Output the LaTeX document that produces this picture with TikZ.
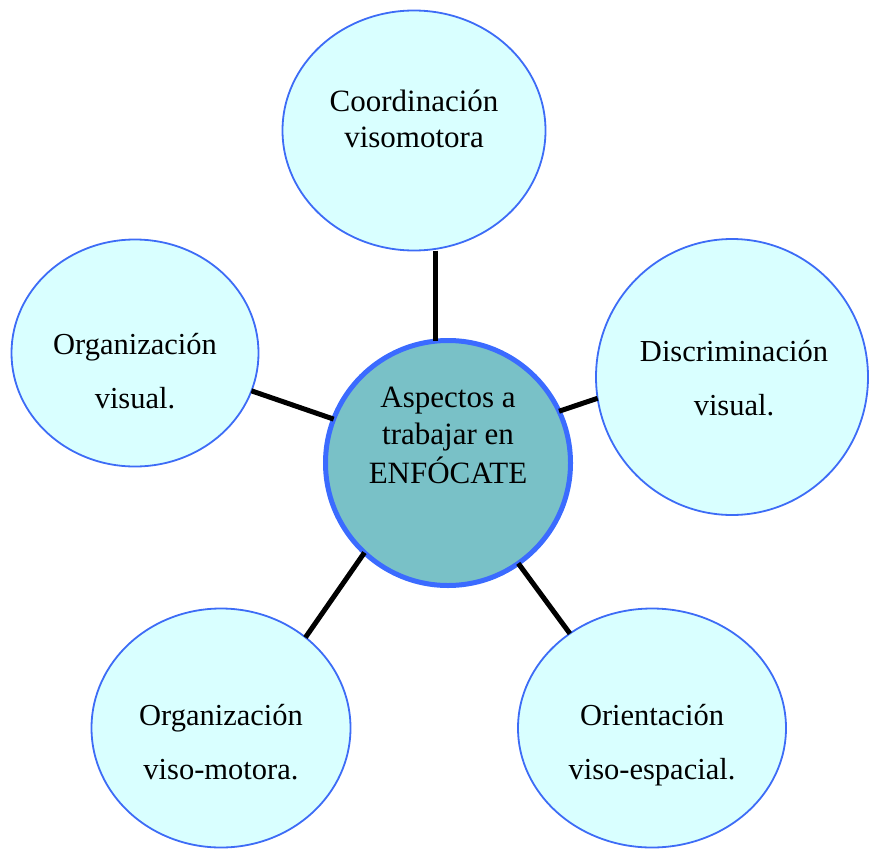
\documentclass[tikz,border=0pt]{standalone}
\usepackage{fontspec}
\setmainfont{Liberation Serif}
\usetikzlibrary{shapes.geometric}
\definecolor{aspectfill}{HTML}{D9FFFF}
\definecolor{aspectline}{HTML}{3D6CF6}
\definecolor{hubfill}{HTML}{79C1C7}
\definecolor{hubline}{HTML}{3B6BFF}
\tikzset{x=1pt, y=-1pt, outer sep=0pt, font=\fontsize{30.5}{54}\selectfont}
\tikzstyle{aspect} = [draw=aspectline, fill=aspectfill, ellipse, line width=1.8pt, inner sep=0pt]
\tikzstyle{centre} = [draw=hubline, fill=hubfill, circle, line width=5pt, inner sep=0pt, minimum size=245pt]
\tikzstyle{txt} = [align=center, inner sep=0pt]
\tikzstyle{link} = [line width=5pt]
\begin{document}
\begin{tikzpicture}
		\useasboundingbox (0,0) rectangle (869,848);
		\node [centre] (hub) at (448,463) {};
		\node [aspect, minimum width=263pt, minimum height=240pt] (coord) at (414,130.5) {};
		\node [aspect, minimum width=272pt, minimum height=276pt] (discrim) at (732,377) {};
		\node [aspect, minimum width=247pt, minimum height=227pt] (orgvis) at (135,353) {};
		\node [aspect, minimum width=259pt, minimum height=239pt] (orgmot) at (221,728) {};
		\node [aspect, minimum width=268pt, minimum height=239pt] (orient) at (652,728) {};

		\node [txt, font=\fontsize{31}{37.5}\selectfont] (hub-text) at (448,438) {\strut Aspectos a\\\strut trabajar en\\\strut ENFÓCATE};
		\node [txt, font=\fontsize{31}{36}\selectfont] (coord-text) at (414,121.8) {\strut Coordinación\\\strut visomotora};
		\node [txt] (discrim-text) at (734,378) {\strut Discriminación\\\strut visual.};
		\node [txt] (orgvis-text) at (135,371) {\strut Organización\\\strut visual.};
		\node [txt] (orgmot-text) at (221,741.5) {\strut Organización\\\strut viso-motora.};
		\node [txt] (orient-text) at (652,741.2) {\strut Orientación\\\strut viso-espacial.};

		\draw [link] (hub.96 |- coord.south) -- (hub.96);
		\draw [link] (discrim.189) -- (hub.25);
		\draw [link] (orgvis.342) -- (hub.159);
		\draw [link] (orgmot.47) -- (hub.227);
		\draw [link] (orient.131) -- (hub.305);
	\end{tikzpicture}
\end{document}
